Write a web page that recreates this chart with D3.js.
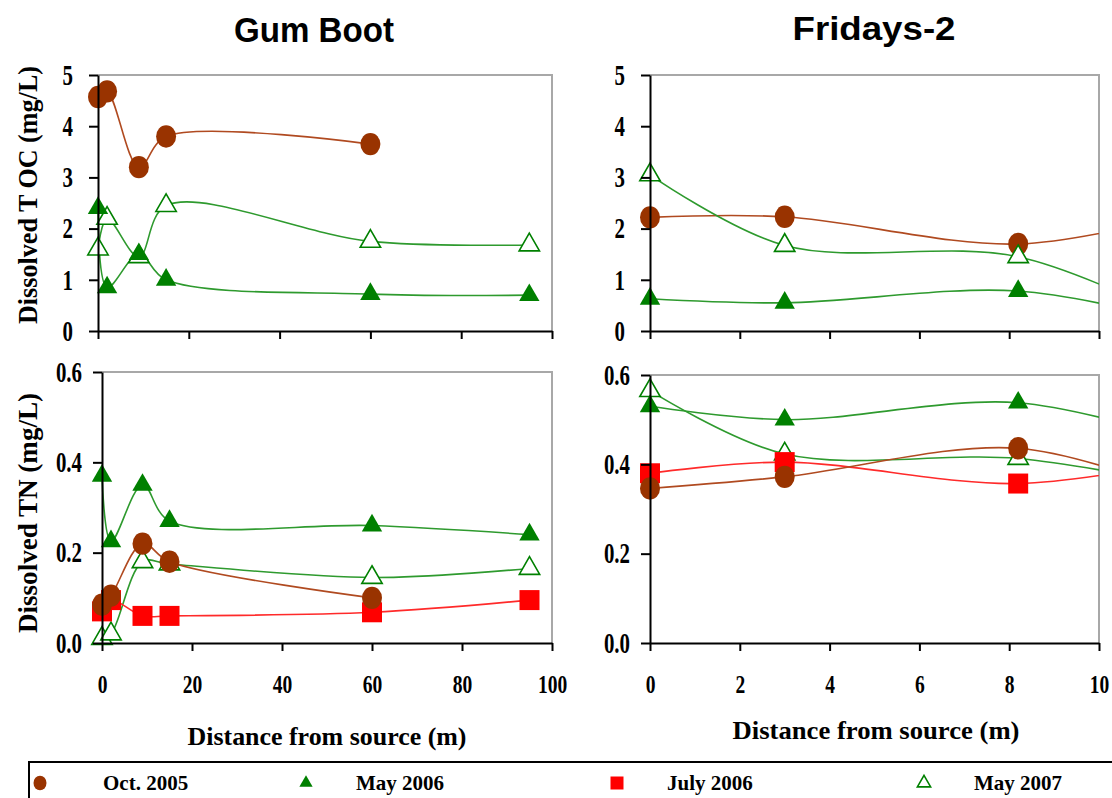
<!DOCTYPE html>
<html>
<head>
<meta charset="utf-8">
<script src="https://cdn.jsdelivr.net/npm/d3@7"></script>
<style>
  body { margin: 0; background: #fff; }
  svg { display: block; }
</style>
</head>
<body>
<svg id="chart" width="1112" height="798"></svg>
<script>
const width = 1112, height = 798;

// distances along each stream (m)
const gumDist = [0, 2, 9, 15, 60, 95];
const friDist = [0, 3, 8.2, 12];   // last station sits past the 10 m end of the axis

const seriesNames = ["Oct. 2005", "May 2006", "July 2006", "May 2007"];

// Gum Boot, dissolved TOC (mg/L)
const gumTocOct05 = [4.57, 4.68, 3.2, 3.8, 3.65, null];
const gumTocMay06 = [2.4, 0.85, 1.5, 1.0, 0.72, 0.7];
const gumTocMay07 = [1.6, 2.2, 1.45, 2.45, 1.75, 1.68];
// Gum Boot, dissolved TN (mg/L)
const gumTnOct05 = [0.085, 0.105, 0.22, 0.18, 0.1, null];
const gumTnMay06 = [0.37, 0.225, 0.35, 0.27, 0.26, 0.24];
const gumTnJul06 = [0.07, 0.095, 0.06, 0.06, 0.068, 0.095];
const gumTnMay07 = [0.01, 0.02, 0.18, 0.175, 0.145, 0.165];
// Fridays-2, dissolved TOC (mg/L)
const friTocOct05 = [2.22, 2.23, 1.7, 2.3];
const friTocMay06 = [0.63, 0.55, 0.78, 0.15];
const friTocMay07 = [3.05, 1.67, 1.45, 0.12];
// Fridays-2, dissolved TN (mg/L)
const friTnOct05 = [0.346, 0.372, 0.436, 0.33];
const friTnMay06 = [0.53, 0.50, 0.538, 0.45];
const friTnJul06 = [0.38, 0.405, 0.357, 0.41];
const friTnMay07 = [0.565, 0.423, 0.413, 0.35];

const tocTicks = [0, 1, 2, 3, 4, 5];
const tnTicks = [0, 0.2, 0.4, 0.6];
const gumTicks = [0, 20, 40, 60, 80, 100];
const friTicks = [0, 2, 4, 6, 8, 10];

const style = {
    "Oct. 2005": {fill: "#993300", line: "#b04a20", shape: "circle"},
    "May 2006":  {fill: "#008000", line: "#2e9a2e", shape: "triangle"},
    "July 2006": {fill: "#ff0000", line: "#ff2a2a", shape: "square"},
    "May 2007":  {fill: "#fff",    line: "#2e9a2e", stroke: "#008000", shape: "triangle"}
};

const SERIF = "'Liberation Serif', 'Times New Roman', serif";
const SANS = "'Liberation Sans', Arial, sans-serif";

const panels = [
    {x0: 98, x1: 552, y0: 75, y1: 331, xDomain: [0, 100], xTicks: gumTicks, yDomain: [0, 5], yTicks: tocTicks,
     fmt: d3.format("d"), xLabels: false, pad: 16, dist: gumDist,
     series: [["Oct. 2005", gumTocOct05], ["May 2007", gumTocMay07], ["May 2006", gumTocMay06]]},
    {x0: 650, x1: 1099, y0: 75, y1: 331, xDomain: [0, 10], xTicks: friTicks, yDomain: [0, 5], yTicks: tocTicks,
     fmt: d3.format("d"), xLabels: false, pad: 16, dist: friDist,
     series: [["Oct. 2005", friTocOct05], ["May 2007", friTocMay07], ["May 2006", friTocMay06]]},
    {x0: 102, x1: 552, y0: 372, y1: 643, xDomain: [0, 100], xTicks: gumTicks, yDomain: [0, 0.6], yTicks: tnTicks,
     fmt: d3.format(".1f"), xLabels: true, pad: 11, dist: gumDist,
     series: [["May 2007", gumTnMay07], ["July 2006", gumTnJul06], ["Oct. 2005", gumTnOct05], ["May 2006", gumTnMay06]]},
    {x0: 650, x1: 1099, y0: 375, y1: 643, xDomain: [0, 10], xTicks: friTicks, yDomain: [0, 0.6], yTicks: tnTicks,
     fmt: d3.format(".1f"), xLabels: true, pad: 11, dist: friDist,
     series: [["May 2007", friTnMay07], ["July 2006", friTnJul06], ["Oct. 2005", friTnOct05], ["May 2006", friTnMay06]]}
];

const svg = d3.select("#chart");
svg.append("rect").attr("width", width).attr("height", height).attr("fill", "#fff");

// narrow the bold serif so it looks like the squeezed Times of the original
function squeeze(texts, sx, attr) {
    texts.each(function () {
        const t = d3.select(this);
        const v = +t.attr(attr) || 0;
        t.attr(attr, v / sx).attr("transform", `scale(${sx},1)`);
    });
}

function marker(g, shape, cx, cy, size, st) {
    if (shape === "circle") {
        g.append("ellipse").attr("cx", cx).attr("cy", cy)
            .attr("rx", size * 0.5).attr("ry", size * 0.56)
            .attr("fill", st.fill);
    } else {
        const sym = shape === "triangle" ? d3.symbolTriangle : d3.symbolSquare;
        const area = shape === "triangle" ? size * size * 0.45 : size * size;
        g.append("path")
            .attr("d", d3.symbol().type(sym).size(area)())
            .attr("transform", `translate(${cx},${cy})`)
            .attr("fill", st.fill)
            .attr("stroke", st.stroke || "none")
            .attr("stroke-width", 1.6);
    }
}

panels.forEach((p, i) => {
    const x = d3.scaleLinear().domain(p.xDomain).range([p.x0, p.x1]);
    const y = d3.scaleLinear().domain(p.yDomain).range([p.y1, p.y0]);

    // grey top and right frame
    svg.append("path")
        .attr("d", `M${p.x0},${p.y0}H${p.x1}V${p.y1}`)
        .attr("fill", "none").attr("stroke", "#a8a8a8").attr("stroke-width", 2);

    const clipId = "clip" + i;
    svg.append("clipPath").attr("id", clipId).append("rect")
        .attr("x", p.x0 - 20).attr("y", p.y0 - 20)
        .attr("width", p.x1 - p.x0 + 20).attr("height", p.y1 - p.y0 + 40);

    const plot = svg.append("g").attr("clip-path", `url(#${clipId})`);

    const line = d3.line()
        .defined(d => d.v != null)
        .x(d => x(d.x)).y(d => y(d.v))
        .curve(d3.curveCatmullRom.alpha(0.5));

    p.series.forEach(([name, vals]) => {
        const st = style[name];
        const pts = vals.map((v, k) => ({x: p.dist[k], v: v})).filter(d => d.v != null);
        plot.append("path").datum(pts)
            .attr("d", line)
            .attr("fill", "none").attr("stroke", st.line).attr("stroke-width", 1.6);
    });
    p.series.forEach(([name, vals]) => {
        const st = style[name];
        vals.forEach((v, k) => {
            if (v == null || p.dist[k] > p.xDomain[1]) return;
            marker(plot, st.shape, x(p.dist[k]), y(v), 20, st);
        });
    });

    const yAxis = svg.append("g")
        .attr("transform", `translate(${p.x0},0)`)
        .call(d3.axisLeft(y).tickValues(p.yTicks).tickFormat(p.fmt)
            .tickSize(9).tickSizeOuter(0).tickPadding(p.pad));
    const xAxis = svg.append("g")
        .attr("transform", `translate(0,${p.y1})`)
        .call(d3.axisBottom(x).tickValues(p.xTicks).tickSize(8).tickSizeOuter(0)
            .tickPadding(24).tickFormat(p.xLabels ? d3.format("d") : ""));

    [yAxis, xAxis].forEach(a => {
        a.select(".domain").attr("stroke", "#000").attr("stroke-width", 2);
        a.selectAll(".tick line").attr("stroke", "#000").attr("stroke-width", 2);
        a.selectAll("text").attr("font-family", SERIF).attr("font-weight", "bold")
            .attr("font-size", 29).attr("fill", "#000");
    });
    squeeze(yAxis.selectAll(".tick text"), 0.72, "x");
    xAxis.selectAll(".tick text").attr("font-size", 25);
    squeeze(xAxis.selectAll(".tick text"), 0.78, "x");
});

// panel titles
svg.append("text").attr("x", 314).attr("y", 42).attr("text-anchor", "middle")
    .attr("font-family", SANS).attr("font-weight", "bold").attr("font-size", 35)
    .attr("textLength", 160).attr("lengthAdjust", "spacingAndGlyphs").text("Gum Boot");
svg.append("text").attr("x", 874).attr("y", 40).attr("text-anchor", "middle")
    .attr("font-family", SANS).attr("font-weight", "bold").attr("font-size", 33)
    .attr("textLength", 163).attr("lengthAdjust", "spacingAndGlyphs").text("Fridays-2");

// axis titles
const yTitles = [["Dissolved T OC (mg/L)", 195, 258], ["Dissolved TN (mg/L)", 513, 240]];
yTitles.forEach(([t, cy, len]) => {
    svg.append("text").attr("transform", `translate(37,${cy}) rotate(-90)`)
        .attr("text-anchor", "middle")
        .attr("font-family", SERIF).attr("font-weight", "bold").attr("font-size", 27)
        .attr("textLength", len).attr("lengthAdjust", "spacingAndGlyphs").text(t);
});
const xTitles = [[327, 745, 279], [876, 739, 287]];
xTitles.forEach(([cx, cy, len]) => {
    svg.append("text").attr("x", cx).attr("y", cy).attr("text-anchor", "middle")
        .attr("font-family", SERIF).attr("font-weight", "bold").attr("font-size", 25)
        .attr("textLength", len).attr("lengthAdjust", "spacingAndGlyphs")
        .text("Distance from source (m)");
});

// legend
const legend = svg.append("g");
legend.append("rect").attr("x", 29).attr("y", 762).attr("width", 1100).attr("height", 60)
    .attr("fill", "#fff").attr("stroke", "#000").attr("stroke-width", 2);
const legendX = [40, 306, 617, 924];
seriesNames.forEach((name, i) => {
    const st = style[name];
    marker(legend, st.shape, legendX[i], 783, 13, st);
    legend.append("text").attr("x", legendX[i] + (i === 0 ? 63 : 50)).attr("y", 790)
        .attr("font-family", SERIF).attr("font-weight", "bold").attr("font-size", 21)
        .text(name);
});
</script>
</body>
</html>
